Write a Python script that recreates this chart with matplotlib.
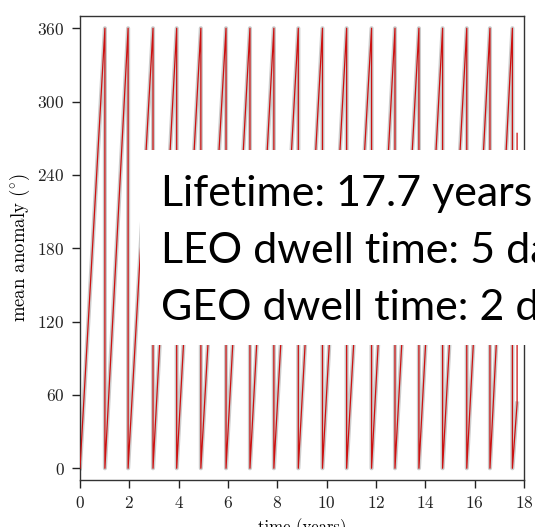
import matplotlib
matplotlib.use("Agg")
import matplotlib.pyplot as plt
from matplotlib.patches import Rectangle

# times (years) at which the mean anomaly wraps from 360 back to 0
wrap_times = [1.01, 1.95, 2.96, 3.92, 4.90, 5.92, 6.89, 7.86, 8.85,
              9.83, 10.81, 11.82, 12.77, 13.74, 14.70, 15.68, 16.62, 17.53]
end_time = 17.72
end_anomaly = 53.0
final_anomaly = 274.0

summary_lines = ["Lifetime: 17.7 years",
                 "LEO dwell time: 5 days",
                 "GEO dwell time: 2 days"]

x_ticks = [0, 2, 4, 6, 8, 10, 12, 14, 16, 18]
y_ticks = [0, 60, 120, 180, 240, 300, 360]

# build the sawtooth
t = [0.0]
M = [0.0]
for w in wrap_times:
    t += [w, w]
    M += [360.0, 0.0]
t.append(end_time)
M.append(end_anomaly)

plt.rcParams['font.family'] = ['cmr10', 'DejaVu Serif']
plt.rcParams['mathtext.fontset'] = 'cm'
plt.rcParams['axes.formatter.use_mathtext'] = True

fig = plt.figure(figsize=(5.35, 5.27), dpi=100)
ax = fig.add_axes([80 / 535, 1 - 480 / 527, 444 / 535, 464 / 527])

ax.plot(t, M, color='#cccccc', lw=3.0, zorder=2)
ax.plot(t + [end_time], M + [final_anomaly], color='#cc1111', lw=0.9,
        zorder=3)

ax.set_xlim(0, 18)
ax.set_ylim(-9.6, 370)
ax.set_xticks(x_ticks)
ax.set_yticks(y_ticks)
ax.tick_params(direction='out', length=6, width=1, labelsize=12.5,
               colors='#222222', pad=5)
for s in ax.spines.values():
    s.set_color('#333333')
    s.set_linewidth(1)

ax.set_xlabel('time (years)', fontsize=12, labelpad=5)
ax.set_ylabel(r'mean anomaly ($^{\circ}$)', fontsize=13.5, labelpad=4)

# white panel with the summary on top of the plot
fig.patches.append(Rectangle((140 / 535, 1 - 345 / 527), 1.0, 195 / 527,
                             transform=fig.transFigure, facecolor='white',
                             edgecolor='none', zorder=10))
for i, line in enumerate(summary_lines):
    fig.text(161 / 535, 1 - (206 + 57 * i) / 527, line, family='Lato',
             fontsize=31, color='black', va='baseline', ha='left', zorder=11)

fig.savefig('out.png', dpi=100)
